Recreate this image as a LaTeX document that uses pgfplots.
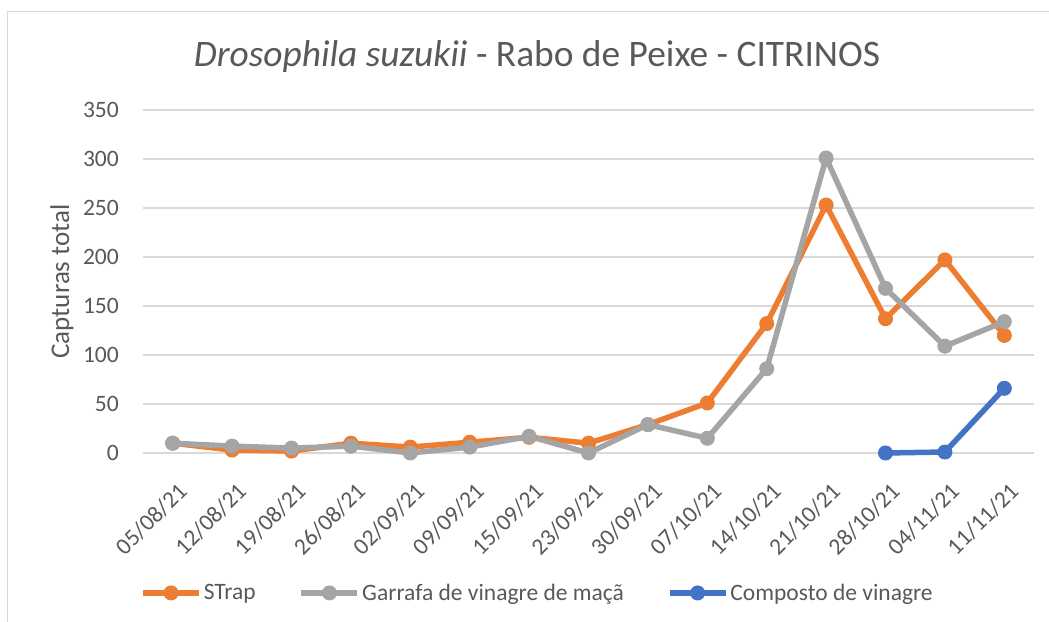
\documentclass[border=0pt]{standalone}
\usepackage{fontspec}
\setmainfont{Carlito}
\usepackage{pgfplots}
\pgfplotsset{compat=1.18}
\definecolor{cOrange}{HTML}{ED7D31}
\definecolor{cGray}{HTML}{A5A5A5}
\definecolor{cBlue}{HTML}{4472C4}
\definecolor{cGrid}{HTML}{D9D9D9}
\definecolor{cText}{HTML}{595959}
\begin{document}
\begin{tikzpicture}[x=1bp,y=1bp]
\path[use as bounding box, fill=white] (0,0) rectangle (1049,622);
\draw[cGrid, line width=1.5bp] (7.5,0) -- (7.5,610.5) -- (1049,610.5);
\node[anchor=base, text=cText, font=\fontsize{37.4bp}{42bp}\selectfont, inner sep=0pt] at (537,555.3) {\textit{Drosophila suzukii} - Rabo de Peixe - CITRINOS};
\begin{axis}[
  at={(143bp,169bp)}, anchor=south west,
  width=891bp, height=343bp, scale only axis,
  xmin=-0.5, xmax=14.5, ymin=0, ymax=350,
  ytick={0,50,...,350},
  xtick=\empty,
  ymajorgrids, grid style={cGrid, line width=1.3bp},
  axis line style={draw=none},
  major tick length=0pt,
  /pgf/number format/assume math mode=true,
  tick label style={text=cText, font=\fontsize{23.5bp}{28bp}\selectfont},
  yticklabel style={anchor=east, inner sep=0pt, xshift=-24bp},
  ylabel={Capturas total},
  every axis y label/.style={at={(axis description cs:-0.0909,0.5)}, rotate=90, anchor=center, text=cText, font=\fontsize{27bp}{32bp}\selectfont},
  clip=false,
  legend columns=3,
  legend style={at={(0.4422,-0.408)}, anchor=center, draw=none, fill=none,
    font=\fontsize{23.5bp}{28bp}\selectfont, text=cText,
    /tikz/every odd column/.append style={column sep=1bp},
    /tikz/every even column/.append style={column sep=42bp},
    nodes={inner sep=1bp}},
  legend image code/.code={\draw[mark repeat=2,mark phase=2,#1] plot coordinates {(0bp,0bp) (28bp,0bp) (56bp,0bp)};},
  every axis plot/.append style={line width=5.5bp, line join=round, mark=*, mark size=7bp, mark options={line width=1bp}},
]
\addplot[color=cOrange] coordinates {(0,10)(1,3)(2,2)(3,10)(4,6)(5,11)(6,16)(7,10)(8,29)(9,51)(10,132)(11,253)(12,137)(13,197)(14,120)};
\addplot[color=cGray] coordinates {(0,10)(1,7)(2,5)(3,7)(4,0)(5,6)(6,17)(7,0)(8,29)(9,15)(10,86)(11,301)(12,168)(13,109)(14,134)};
\addplot[color=cBlue] coordinates {(12,0)(13,1)(14,66)};
\legend{STrap, Garrafa de vinagre de maçã, Composto de vinagre}
\end{axis}
\foreach \lab [count=\i from 0] in {05/08/21,12/08/21,19/08/21,26/08/21,02/09/21,09/09/21,15/09/21,23/09/21,30/09/21,07/10/21,14/10/21,21/10/21,28/10/21,04/11/21,11/11/21}
  \node[rotate=45, anchor=north east, inner sep=0pt, text=cText, font=\fontsize{23.5bp}{28bp}\selectfont] at ({176.7+59.4*\i}, 141) {\lab};
\end{tikzpicture}
\end{document}
